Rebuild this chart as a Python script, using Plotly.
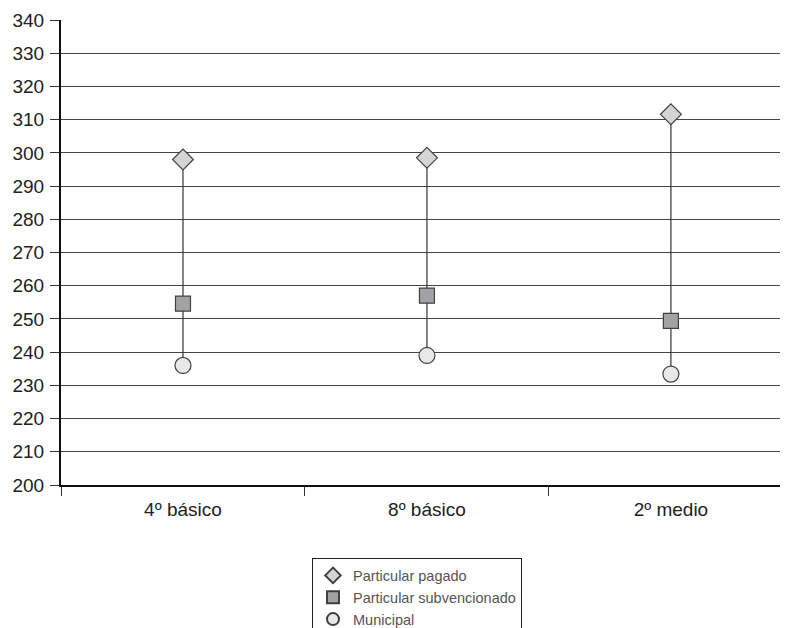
import plotly.graph_objects as go

categories = ["4º básico", "8º básico", "2º medio"]
particular_pagado = [298, 298.5, 311.6]
particular_subvencionado = [254.6, 257, 249.4]
municipal = [236, 239, 233.4]
y_ticks = list(range(200, 341, 10))

fig = go.Figure()

# high-low connector lines
lx, ly = [], []
for c, lo, hi in zip(categories, municipal, particular_pagado):
    lx += [c, c, None]
    ly += [lo, hi, None]
fig.add_trace(go.Scatter(x=lx, y=ly, mode="lines", line=dict(color="#333333", width=1.2),
                         showlegend=False, hoverinfo="skip"))

fig.add_trace(go.Scatter(x=categories, y=particular_pagado, mode="markers", name="Particular pagado",
                         marker=dict(symbol="diamond", size=16, color="#d4d4d4",
                                     line=dict(color="#404040", width=1.2))))
fig.add_trace(go.Scatter(x=categories, y=particular_subvencionado, mode="markers", name="Particular subvencionado",
                         marker=dict(symbol="square", size=15, color="#a3a3a6",
                                     line=dict(color="#404040", width=1.2))))
fig.add_trace(go.Scatter(x=categories, y=municipal, mode="markers", name="Municipal",
                         marker=dict(symbol="circle", size=16, color="#e8e8e8",
                                     line=dict(color="#404040", width=1.2))))

fig.update_layout(
    width=780, height=620,
    margin=dict(l=53, r=0, t=12, b=143, autoexpand=False),
    paper_bgcolor="white", plot_bgcolor="white",
    font=dict(family="Liberation Sans, Arial, sans-serif", size=19, color="#222222"),
    showlegend=True,
    legend=dict(orientation="v", x=0.4897, xanchor="center", y=-0.158, yanchor="top",
                bordercolor="#222222", borderwidth=1, bgcolor="white",
                font=dict(size=14.5, color="#555555"), itemsizing="constant",
                tracegroupgap=0),
    xaxis=dict(type="category", showgrid=False, showline=True, linecolor="#111111", linewidth=2,
               ticks="outside", ticklen=9, tickcolor="#333333", tickson="boundaries",
               range=[-0.5, 2.48], automargin=False, ticklabelstandoff=6,
               tickfont=dict(size=19, color="#222222")),
    yaxis=dict(range=[200, 340], tickvals=y_ticks, showgrid=True, gridcolor="#444444", gridwidth=1.2,
               showline=True, linecolor="#111111", linewidth=2, ticks="outside", ticklen=9,
               tickcolor="#333333", zeroline=False, automargin=False, ticklabelstandoff=2,
               tickfont=dict(size=19, color="#222222")),
)

fig.write_html("out.html")
